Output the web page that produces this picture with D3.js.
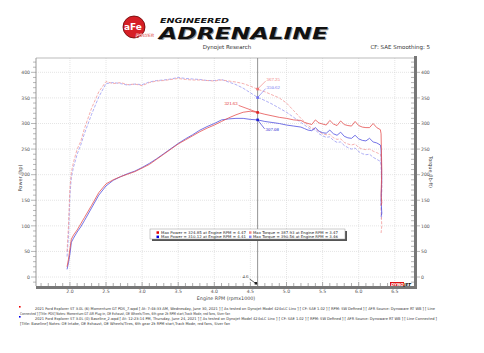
<!DOCTYPE html>
<html>
<head>
<meta charset="utf-8">
<script src="https://cdn.jsdelivr.net/npm/d3@7"></script>
<style>
  body { margin: 0; background: #fff; }
  svg { display: block; font-family: "DejaVu Sans", sans-serif; }
</style>
</head>
<body>
<svg id="chart" width="484" height="353"></svg>
<script>
// Dyno sheet: power (solid) and torque (dashed), PDS run (red) vs baseline (blue).
const rpm = [1.96, 1.98, 2.0, 2.02, 2.05, 2.1, 2.15, 2.2,
  2.3, 2.4, 2.5, 2.6, 2.7, 2.8, 2.9, 3.0, 3.1, 3.2,
  3.3, 3.4, 3.5, 3.6, 3.7, 3.8, 3.9, 4.0, 4.1, 4.2,
  4.3, 4.4, 4.5, 4.6, 4.7, 4.8, 4.9, 5.0, 5.1, 5.2,
  5.25, 5.3, 5.35, 5.4, 5.45, 5.5, 5.55, 5.6, 5.65, 5.7, 5.75,
  5.8, 5.85, 5.9, 5.95, 6.0, 6.05, 6.1, 6.15, 6.2, 6.25, 6.3,
  6.31, 6.32, 6.31, 6.32, 6.31];

const powerPDS = [20, 35, 55, 74, 82, 92, 104, 116,
  140, 165, 182, 190, 196, 201, 206, 213, 220, 230,
  240, 250, 260, 268, 276, 284, 291, 297, 304, 311,
  317, 322, 324, 321.6, 318, 315, 312, 310, 307, 306,
  302, 300, 298, 307, 301, 299, 297, 306, 299, 296, 305,
  298, 296, 295, 304, 296, 293, 292, 292, 300, 292, 288,
  280, 210, 160, 145, 140];

const powerBase = [15, 28, 45, 68, 76, 88, 98, 110,
  135, 160, 178, 189, 196, 202, 207, 214, 222, 231,
  241, 251, 261, 270, 278, 287, 294, 300, 307, 309,
  310, 310, 308, 307, 304, 302, 300, 297, 295, 293,
  290, 287, 286, 292, 285, 282, 281, 287, 280, 277, 283,
  275, 272, 271, 277, 270, 267, 266, 271, 264, 262, 258,
  250, 190, 150, 125, 118];

const torquePDS = [50, 100, 175, 205, 225, 250, 265, 290,
  330, 362, 382, 378, 380, 376, 377, 374, 380, 383,
  384, 386, 388, 386, 385, 385, 384, 383, 385, 383,
  381, 378, 373, 367, 362, 356, 350, 340, 325, 310,
  303, 296, 291, 290, 284, 280, 278, 279, 272, 269, 270,
  263, 260, 258, 260, 253, 250, 249, 250, 246, 243, 240,
  235, 180, 130, 100, 86];

const torqueBase = [40, 80, 160, 195, 215, 240, 258, 280,
  318, 352, 378, 380, 378, 375, 377, 376, 381, 384,
  385, 387, 390, 388, 387, 386, 384, 384, 386, 381,
  376, 369, 360, 351, 345, 338, 330, 322, 312, 302,
  297, 292, 288, 288, 280, 276, 273, 274, 267, 263, 264,
  257, 253, 250, 252, 245, 241, 239, 240, 234, 230, 226,
  220, 170, 140, 120, 111];

const xTicks = [2.0, 2.5, 3.0, 3.5, 4.0, 4.5, 5.0, 5.5, 6.0, 6.5];
const yTicks = [0, 50, 100, 150, 200, 250, 300, 350, 400];

const cursorRpm = 4.6;
const cursorValues = [
  { label: '321.63', value: 321.63, color: '#e02020', dx: -19, dy: -7 },
  { label: '307.08', value: 307.08, color: '#2020d0', dx: 7, dy: 9 },
  { label: '367.25', value: 367.25, color: '#f07070', dx: 8, dy: -8 },
  { label: '350.62', value: 350.62, color: '#7070f0', dx: 8, dy: -9 }
];

const legendRows = [
  ['Max Power = 324.85 at Engine RPM = 4.47', '#e00000', 'Max Torque = 387.93 at Engine RPM = 3.47', '#f08888'],
  ['Max Power = 310.12 at Engine RPM = 4.41', '#0000e0', 'Max Torque = 390.56 at Engine RPM = 3.46', '#8888f0']
];

const notes = [
  '2021 Ford Explorer ST 3.0L (6) Momentum GT PDS_7.wpd [ At: 7:48:33 AM, Wednesday, June 30, 2021 ] [ As tested on Dynojet Model 424xLC Linx ] [ CF: SAE 1.02 ] [ RPM: SW Defined ] [ AFR Source: Dynoware RT WB ] [ Line',
  'Connected ] [Title: PDS]  Notes: Momentum GT AIR Plug-in, OE Exhaust, OE Wheels/Tires, 6th gear 2k RPM start,Track Mode, red fans, Siver fan',
  '2021 Ford Explorer ST 3.0L (0) Baseline_2.wpd [ At: 12:23:14 PM, Thursday, June 24, 2021 ] [ As tested on Dynojet Model 424xLC Linx ] [ CF: SAE 1.02 ] [ RPM: SW Defined ] [ AFR Source: Dynoware RT WB ] [ Line Connected ]',
  '[Title: Baseline]  Notes: OE Intake, OE Exhaust, OE Wheels/Tires, 6th gear 2k RPM start,Track Mode, red fans, Siver fan'
];

const svg = d3.select('#chart');
const L = 36, R = 415, T = 58, B = 286;

const x = d3.scaleLinear().domain([1.53, 6.78]).range([L, R]);
const y = d3.scaleLinear().domain([-19.5, 428]).range([287, T]);

// header
const head = svg.append('g');
head.append('circle').attr('cx', 134).attr('cy', 27).attr('r', 11)
  .attr('fill', '#d61f26').attr('stroke', '#600').attr('stroke-width', 0.8);
head.append('text').attr('x', 133).attr('y', 30).attr('text-anchor', 'middle')
  .attr('font-size', 9).attr('font-weight', 'bold').attr('fill', '#fff').text('aFe');
head.append('text').attr('x', 145).attr('y', 37).attr('text-anchor', 'middle')
  .attr('font-size', 4.5).attr('font-weight', 'bold').attr('font-style', 'italic')
  .attr('fill', '#d61f26').attr('stroke', '#fff').attr('stroke-width', 0.3).text('POWER');
head.append('text').attr('x', 160).attr('y', 23)
  .attr('font-size', 7).attr('font-weight', 'bold').attr('font-style', 'italic')
  .attr('textLength', 69).attr('lengthAdjust', 'spacingAndGlyphs').attr('fill', '#111').text('ENGINEERED');
head.append('text').attr('x', 160).attr('y', 40)
  .attr('font-size', 16).attr('font-weight', 'bold').attr('font-style', 'italic')
  .attr('textLength', 169).attr('lengthAdjust', 'spacingAndGlyphs').attr('fill', '#999').text('ADRENALINE');
head.append('text').attr('x', 159).attr('y', 39)
  .attr('font-size', 16).attr('font-weight', 'bold').attr('font-style', 'italic')
  .attr('textLength', 169).attr('lengthAdjust', 'spacingAndGlyphs').attr('fill', '#111').text('ADRENALINE');
head.append('text').attr('x', 227).attr('y', 49).attr('text-anchor', 'middle')
  .attr('font-size', 5.5).attr('fill', '#333').text('Dynojet Research');
head.append('text').attr('x', 430).attr('y', 49).attr('text-anchor', 'end')
  .attr('font-size', 5.5).attr('fill', '#333').text('CF: SAE Smoothing: 5');

// grid
const grid = svg.append('g').attr('stroke', '#d4d4d4').attr('stroke-dasharray', '1,1').attr('stroke-width', 0.6);
grid.selectAll('line.v').data(xTicks).join('line').attr('class', 'v')
  .attr('x1', d => x(d)).attr('x2', d => x(d)).attr('y1', T).attr('y2', B);
grid.selectAll('line.h').data(yTicks).join('line').attr('class', 'h')
  .attr('x1', L).attr('x2', R).attr('y1', d => y(d)).attr('y2', d => y(d));

svg.append('line').attr('x1', L).attr('x2', R).attr('y1', T).attr('y2', T)
  .attr('stroke', '#aaa').attr('stroke-width', 0.8);

// left axis (power)
const minorY = d3.range(-10, 421, 10);
const leftAx = svg.append('g');
leftAx.append('line').attr('x1', L).attr('x2', L).attr('y1', T).attr('y2', B).attr('stroke', '#999');
leftAx.selectAll('line.t').data(minorY).join('line').attr('class', 't')
  .attr('x1', d => d % 50 === 0 ? L - 5 : L - 3).attr('x2', L)
  .attr('y1', d => y(d)).attr('y2', d => y(d)).attr('stroke', '#888').attr('stroke-width', 0.6);
leftAx.selectAll('text').data(yTicks).join('text')
  .attr('x', L - 6).attr('y', d => y(d) + 1.7).attr('text-anchor', 'end')
  .attr('font-size', 4.6).attr('fill', '#555').text(d => d);
svg.append('text').attr('transform', 'translate(22,178) rotate(-90)').attr('text-anchor', 'middle')
  .attr('font-size', 5).attr('fill', '#444').text('Power (hp)');

// right axis (torque)
const rightAx = svg.append('g');
rightAx.selectAll('line.t').data(minorY).join('line').attr('class', 't')
  .attr('x1', R - 4).attr('x2', d => d % 50 === 0 ? R + 5 : R)
  .attr('y1', d => y(d)).attr('y2', d => y(d)).attr('stroke', '#888').attr('stroke-width', 0.6);
rightAx.append('rect').attr('x', R - 1).attr('y', T - 2).attr('width', 3).attr('height', B - T + 2).attr('fill', '#777');
rightAx.selectAll('text').data(yTicks).join('text')
  .attr('x', R + 6).attr('y', d => y(d) + 1.7)
  .attr('font-size', 4.6).attr('fill', '#555').text(d => d);
svg.append('text').attr('transform', 'translate(429,172) rotate(90)').attr('text-anchor', 'middle')
  .attr('font-size', 5).attr('fill', '#444').text('Torque (lb-ft)');

// bottom axis
const minorX = d3.range(16, 68).map(d => d / 10);
const botAx = svg.append('g');
botAx.selectAll('line').data(minorX).join('line')
  .attr('x1', d => x(d)).attr('x2', d => x(d))
  .attr('y1', d => Math.abs(d * 2 - Math.round(d * 2)) < 1e-6 ? B - 4 : B - 3).attr('y2', B)
  .attr('stroke', '#777').attr('stroke-width', 0.6);
botAx.append('rect').attr('x', L).attr('y', B).attr('width', R - L + 2).attr('height', 3).attr('fill', '#777');
botAx.selectAll('text').data(xTicks).join('text')
  .attr('x', d => x(d)).attr('y', 293).attr('text-anchor', 'middle')
  .attr('font-size', 4.6).attr('fill', '#555').text(d => d.toFixed(1));
svg.append('text').attr('x', 226).attr('y', 299.5).attr('text-anchor', 'middle')
  .attr('font-size', 4.8).attr('fill', '#444').text('Engine RPM (rpmx1000)');

// dynojet mark
svg.append('rect').attr('x', 390).attr('y', 282).attr('width', 14).attr('height', 4).attr('fill', '#d11');
svg.append('text').attr('x', 391).attr('y', 285.6).attr('font-size', 4).attr('font-weight', 'bold')
  .attr('font-style', 'italic').attr('fill', '#fff').text('DYNO');
svg.append('text').attr('x', 404).attr('y', 285.6).attr('font-size', 4).attr('font-weight', 'bold')
  .attr('font-style', 'italic').attr('fill', '#111').text('JET');

// curves
const line = d3.line().x(d => x(d[0])).y(d => y(d[1]));
const series = [
  { vals: torqueBase, color: '#9a9af2', dash: '3,1.5' },
  { vals: torquePDS, color: '#f29a9a', dash: '3,1.5' },
  { vals: powerBase, color: '#5050e0', dash: null },
  { vals: powerPDS, color: '#e45050', dash: null }
];
svg.append('g').selectAll('path').data(series).join('path')
  .attr('d', s => line(rpm.map((r, i) => [r, s.vals[i]])))
  .attr('fill', 'none').attr('stroke', s => s.color).attr('stroke-width', 0.8)
  .attr('stroke-dasharray', s => s.dash);

// cursor
svg.append('line').attr('x1', x(cursorRpm)).attr('x2', x(cursorRpm)).attr('y1', T).attr('y2', B)
  .attr('stroke', '#888').attr('stroke-width', 0.9);
svg.append('text').attr('x', x(cursorRpm) - 15).attr('y', 278).attr('font-size', 4.6)
  .attr('font-family', 'Liberation Serif').attr('fill', '#333').text('4.6');
svg.append('line').attr('x1', x(cursorRpm) - 8).attr('y1', 279).attr('x2', x(cursorRpm) - 1).attr('y2', 284)
  .attr('stroke', '#222').attr('stroke-width', 0.7);
svg.append('rect').attr('x', x(cursorRpm) - 3).attr('y', 282).attr('width', 2.5).attr('height', 2.5).attr('fill', '#222');

const cur = svg.append('g');
cursorValues.forEach(c => {
  const px = x(cursorRpm), py = y(c.value);
  cur.append('rect').attr('x', px - 1.3).attr('y', py - 1.3).attr('width', 2.6).attr('height', 2.6).attr('fill', c.color);
  const lx = px + c.dx, ly = py + c.dy;
  cur.append('line').attr('x1', lx).attr('y1', ly).attr('x2', px).attr('y2', py)
    .attr('stroke', c.color).attr('stroke-width', 0.6);
  cur.append('text').attr('x', c.dx < 0 ? lx - 1 : lx + 1).attr('y', c.dy < 0 ? ly : ly + 2)
    .attr('text-anchor', c.dx < 0 ? 'end' : 'start')
    .attr('font-size', 4.8).attr('font-family', 'Liberation Serif').attr('fill', c.color).text(c.label);
});

// legend
const lg = svg.append('g');
lg.append('rect').attr('x', 152).attr('y', 231).attr('width', 195).attr('height', 10).attr('fill', '#555');
lg.append('rect').attr('x', 150).attr('y', 229).attr('width', 195).attr('height', 10)
  .attr('fill', '#fff').attr('stroke', '#999').attr('stroke-width', 0.5);
legendRows.forEach((row, i) => {
  const yy = 232.5 + i * 4.3;
  lg.append('rect').attr('x', 156.5).attr('y', yy - 1.2).attr('width', 2.5).attr('height', 2.5).attr('fill', row[1]);
  lg.append('text').attr('x', 161).attr('y', yy + 1.2).attr('font-size', 3.7).attr('fill', '#222')
    .attr('textLength', 85).attr('lengthAdjust', 'spacingAndGlyphs').text(row[0]);
  lg.append('rect').attr('x', 249).attr('y', yy - 1.2).attr('width', 2.5).attr('height', 2.5).attr('fill', row[3]);
  lg.append('text').attr('x', 253).attr('y', yy + 1.2).attr('font-size', 3.7).attr('fill', '#222')
    .attr('textLength', 85).attr('lengthAdjust', 'spacingAndGlyphs').text(row[2]);
});

// run notes
const notePos = [[35, 310, 400], [20, 315, 210], [35, 320, 402], [20, 325, 210]];
notes.forEach((t, i) => {
  svg.append('text').attr('x', notePos[i][0]).attr('y', notePos[i][1])
    .attr('font-size', 3.8).attr('fill', '#333')
    .attr('textLength', notePos[i][2]).attr('lengthAdjust', 'spacingAndGlyphs').text(t);
});
svg.append('rect').attr('x', 19).attr('y', 306).attr('width', 1.6).attr('height', 1.6).attr('fill', '#e00');
svg.append('rect').attr('x', 19).attr('y', 316).attr('width', 1.6).attr('height', 1.6).attr('fill', '#00e');
</script>
</body>
</html>
